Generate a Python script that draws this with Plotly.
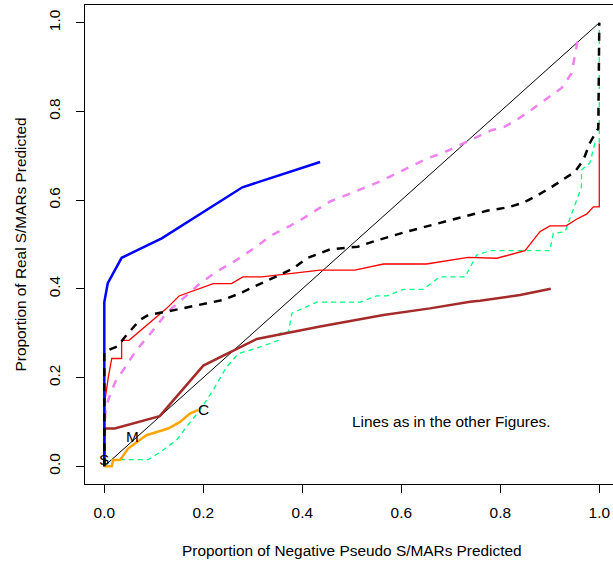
import plotly.graph_objects as go

# ---- data ----
diag_x = [0, 1]
diag_y = [0, 1]

blue_x = [0, 0, 0.007, 0.035, 0.116, 0.279, 0.436]
blue_y = [0, 0.37, 0.413, 0.470, 0.514, 0.629, 0.686]

red_x = [0, 0, 0.0014, 0.008, 0.015, 0.035, 0.035, 0.050, 0.126, 0.151, 0.190, 0.220, 0.257,
         0.280, 0.318, 0.436, 0.506, 0.564, 0.651, 0.735, 0.793, 0.850, 0.880, 0.900,
         0.933, 0.954, 0.975, 0.988, 1.0, 1.0]
red_y = [0, 0.12, 0.149, 0.200, 0.243, 0.243, 0.284, 0.284, 0.356, 0.384, 0.399, 0.412, 0.412,
         0.427, 0.427, 0.442, 0.442, 0.456, 0.456, 0.471, 0.469, 0.486, 0.529, 0.542,
         0.542, 0.557, 0.569, 0.585, 0.585, 0.728]

black_x = [0, 0, 0.028, 0.042, 0.072, 0.089, 0.123, 0.183, 0.240, 0.274, 0.341, 0.382, 0.409,
           0.456, 0.512, 0.550, 0.611, 0.644, 0.710, 0.773, 0.816, 0.846, 0.877, 0.904,
           0.927, 0.951, 0.968, 0.981, 0.998, 1.0]
black_y = [0, 0.258, 0.271, 0.292, 0.330, 0.341, 0.348, 0.361, 0.375, 0.390, 0.424, 0.446, 0.469,
           0.489, 0.495, 0.509, 0.529, 0.539, 0.558, 0.576, 0.584, 0.594, 0.612, 0.630,
           0.646, 0.664, 0.691, 0.729, 0.762, 1.0]

violet_x = [0, 0.002, 0.008, 0.022, 0.040, 0.065, 0.096, 0.126, 0.160, 0.193, 0.227, 0.267,
            0.298, 0.338, 0.375, 0.402, 0.429, 0.456, 0.490, 0.523, 0.557, 0.597, 0.655,
            0.685, 0.719, 0.752, 0.783, 0.803, 0.833, 0.863, 0.894, 0.924, 0.944, 0.951, 0.956]
violet_y = [0, 0.120, 0.150, 0.190, 0.220, 0.262, 0.303, 0.346, 0.379, 0.412, 0.439, 0.465,
            0.488, 0.521, 0.542, 0.559, 0.578, 0.597, 0.612, 0.627, 0.642, 0.664, 0.695,
            0.707, 0.725, 0.743, 0.758, 0.762, 0.781, 0.804, 0.828, 0.853, 0.886, 0.924, 0.958]

green_x = [0, 0.015, 0.089, 0.113, 0.146, 0.166, 0.193, 0.220, 0.247, 0.271, 0.315, 0.352, 0.355,
           0.372, 0.379, 0.402, 0.429, 0.517, 0.550, 0.571, 0.604, 0.644, 0.678, 0.729, 0.752,
           0.779, 0.900, 0.907, 0.931, 0.964, 0.964, 0.981, 0.991, 1.0, 1.0]
green_y = [0, 0.015, 0.015, 0.032, 0.059, 0.089, 0.126, 0.172, 0.224, 0.254, 0.269, 0.284, 0.300,
           0.303, 0.345, 0.356, 0.370, 0.370, 0.384, 0.384, 0.399, 0.399, 0.427, 0.427, 0.476,
           0.486, 0.486, 0.525, 0.529, 0.630, 0.668, 0.684, 0.728, 0.729, 1.0]

brown_x = [0, 0, 0.021, 0.112, 0.200, 0.274, 0.308, 0.436, 0.564, 0.658, 0.739, 0.759, 0.840, 0.902]
brown_y = [0, 0.085, 0.085, 0.113, 0.227, 0.269, 0.287, 0.315, 0.341, 0.356, 0.371, 0.373, 0.386, 0.400]

orange_x = [0, 0.015, 0.018, 0.032, 0.048, 0.085, 0.129, 0.153, 0.173, 0.190]
orange_y = [0, 0, 0.014, 0.014, 0.040, 0.070, 0.085, 0.100, 0.119, 0.127]

label_text = ["S", "M", "C"]
label_x = [0.0, 0.056, 0.200]
label_y = [0.016, 0.068, 0.127]

tick_vals = [0, 0.2, 0.4, 0.6, 0.8, 1.0]
tick_text = ["0.0", "0.2", "0.4", "0.6", "0.8", "1.0"]

FONT = "Liberation Sans, Arial, sans-serif"
FS = 15.4

fig = go.Figure()


def add_line(x, y, color, width, dash="solid"):
    fig.add_trace(go.Scatter(x=x, y=y, mode="lines",
                             line=dict(color=color, width=width, dash=dash),
                             hoverinfo="skip", showlegend=False))


add_line(diag_x, diag_y, "black", 1)
add_line(green_x, green_y, "#00FF7F", 1.3, "5px,4px")
add_line(red_x, red_y, "#FF0000", 1.3)
add_line(violet_x, violet_y, "#EE82EE", 2.5, "8px,8px")
add_line(brown_x, brown_y, "#A52A2A", 2.5)
add_line(orange_x, orange_y, "#FFA500", 2.5)
add_line(blue_x, blue_y, "#0000FF", 2.5)
add_line(black_x, black_y, "black", 2.5, "8px,7px")

annotations = []
for t, x, y in zip(label_text, label_x, label_y):
    annotations.append(dict(x=x, y=y, xref="x", yref="y", text=t, showarrow=False,
                            font=dict(size=FS, color="black", family=FONT),
                            xanchor="center", yanchor="middle"))

annotations.append(dict(x=0.70, y=0.10, xref="x", yref="y",
                        text="Lines as in the other Figures.", showarrow=False,
                        font=dict(size=FS, color="black", family=FONT),
                        xanchor="center", yanchor="middle"))

annotations.append(dict(x=0.5, y=0, xref="x", yref="paper",
                        text="Proportion of Negative Pseudo S/MARs Predicted", showarrow=False,
                        font=dict(size=FS, color="black", family=FONT),
                        xanchor="center", yanchor="middle", yshift=-66))
annotations.append(dict(x=0, y=0.5, xref="paper", yref="paper",
                        text="Proportion of Real S/MARs Predicted", showarrow=False,
                        textangle=-90,
                        font=dict(size=FS, color="black", family=FONT),
                        xanchor="center", yanchor="middle", xshift=-65))

fig.update_layout(
    width=613, height=565,
    margin=dict(l=85, r=0, t=5, b=81, pad=0),
    paper_bgcolor="white", plot_bgcolor="white",
    font=dict(family=FONT, size=FS, color="black"),
    annotations=annotations,
    showlegend=False,
)
fig.update_xaxes(range=[-0.039, 1.0277], tickvals=tick_vals, ticktext=tick_text,
                 showgrid=False, zeroline=False, showline=True, linecolor="black",
                 linewidth=1, mirror=True, ticks="outside", ticklen=8, tickcolor="black",
                 ticklabelstandoff=7,
                 tickfont=dict(size=FS, family=FONT, color="black"))
fig.update_yaxes(range=[-0.04, 1.04], tickvals=tick_vals, ticktext=tick_text,
                 showgrid=False, zeroline=False, showline=True, linecolor="black",
                 linewidth=1, ticks="outside", ticklen=8, tickcolor="black", tickangle=-90,
                 ticklabelstandoff=10,
                 tickfont=dict(size=FS, family=FONT, color="black"))

fig.write_html("out.html")
